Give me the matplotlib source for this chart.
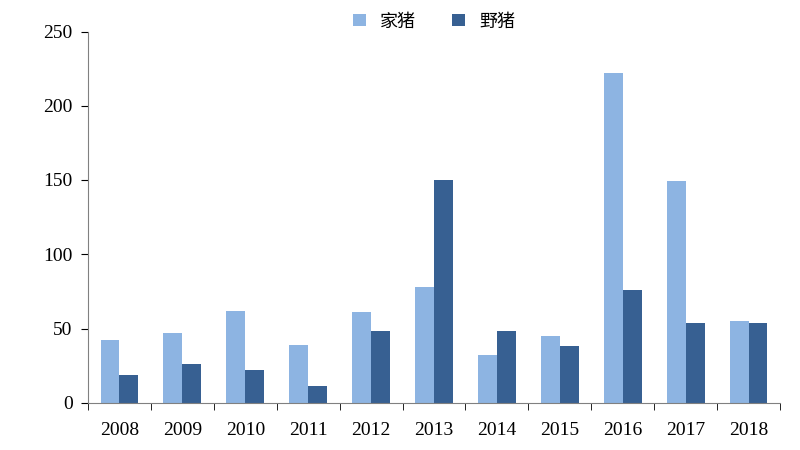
import matplotlib.pyplot as plt
import numpy as np

years = ["2008", "2009", "2010", "2011", "2012", "2013", "2014", "2015", "2016", "2017", "2018"]
domestic = [42, 47, 62, 39, 61, 78, 32, 45, 222, 149, 55]
wild = [19, 26, 22, 11, 48, 150, 48, 38, 76, 54, 54]

plt.rcParams['font.family'] = ['Liberation Serif', 'Noto Sans CJK SC']

fig, ax = plt.subplots(figsize=(8, 4.5), dpi=100)
fig.subplots_adjust(left=0.11, right=0.975, top=0.93, bottom=0.105)

x = np.arange(len(years))
w = 0.3
ax.bar(x - w / 2, domestic, w, color="#8DB4E2", label="家猪")
ax.bar(x + w / 2, wild, w, color="#376092", label="野猪")

ax.set_xlim(-0.5, len(years) - 0.5)
ax.set_ylim(0, 250)
ax.set_yticks(range(0, 251, 50))
ax.set_xticks(x)
ax.set_xticklabels(years)
ax.set_xticks(np.arange(-0.5, len(years)), minor=True)
ax.tick_params(axis="x", which="major", length=0, labelsize=14, pad=14)
ax.tick_params(axis="x", which="minor", length=5, direction="out")
ax.tick_params(axis="y", labelsize=14, length=5, direction="out", pad=6)
for s in ["top", "right"]:
    ax.spines[s].set_visible(False)
for s in ["left", "bottom"]:
    ax.spines[s].set_color("#808080")

ax.legend(loc="upper center", bbox_to_anchor=(0.5, 1.095), ncol=2, frameon=False,
          handlelength=0.7, handleheight=0.7, columnspacing=2,
          prop={'family': ['Noto Sans CJK SC'], 'size': 13})

fig.savefig("out.png")
